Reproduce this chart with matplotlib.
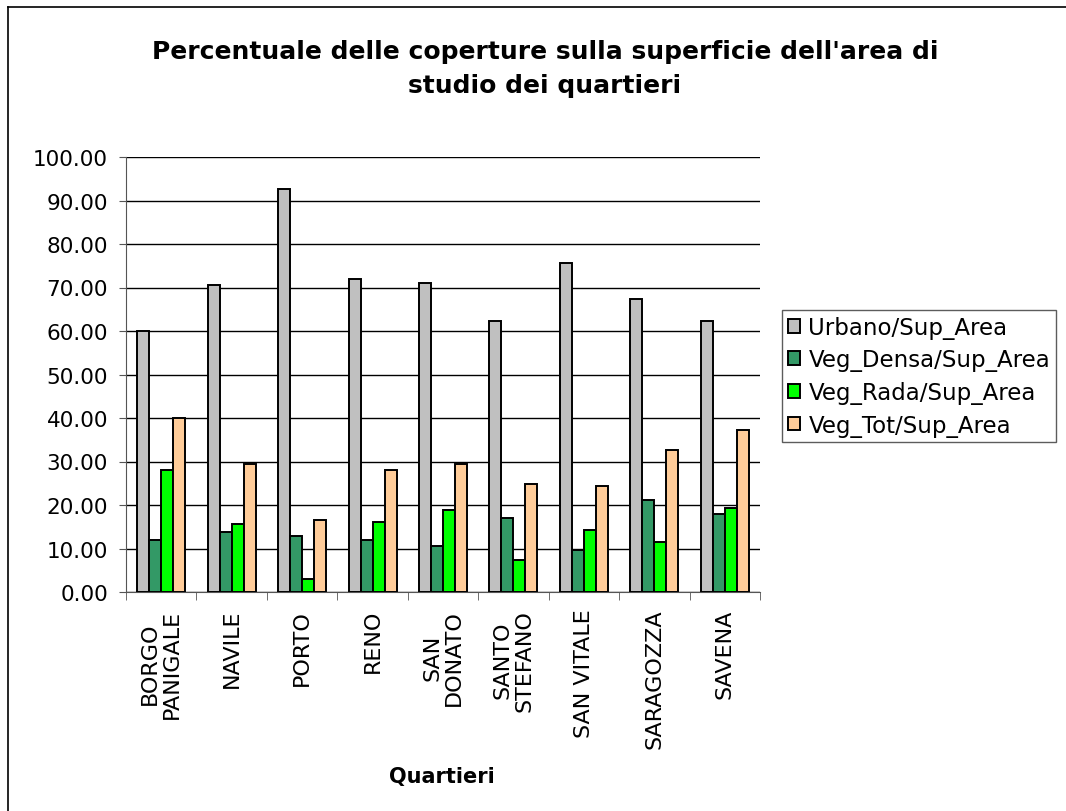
import matplotlib
matplotlib.use("Agg")
import matplotlib.pyplot as plt
import numpy as np
from matplotlib.lines import Line2D

categories = ["BORGO\nPANIGALE", "NAVILE", "PORTO", "RENO", "SAN\nDONATO",
              "SANTO\nSTEFANO", "SAN VITALE", "SARAGOZZA", "SAVENA"]
series_names = ["Urbano/Sup_Area", "Veg_Densa/Sup_Area", "Veg_Rada/Sup_Area", "Veg_Tot/Sup_Area"]
urbano = [59.9, 70.5, 92.6, 71.9, 71.0, 62.2, 75.6, 67.3, 62.2]
veg_densa = [12.0, 13.8, 12.9, 12.0, 10.6, 17.1, 9.7, 21.2, 18.0]
veg_rada = [28.1, 15.7, 3.1, 16.1, 18.9, 7.4, 14.3, 11.5, 19.4]
veg_tot = [40.1, 29.5, 16.6, 28.1, 29.5, 24.9, 24.4, 32.7, 37.3]
colors = ["#C0C0C0", "#339966", "#00FF00", "#FFCC99"]

plt.rcParams['font.family'] = ['DejaVu Sans']

fig = plt.figure(figsize=(10.66, 8.12), dpi=100)
ax = fig.add_axes([126/1066, 1 - 593/812, (760-126)/1066, (593-158)/812])

n = len(categories)
x = np.arange(n)
bw = 0.17
data = [urbano, veg_densa, veg_rada, veg_tot]
handles = []
for i, (vals, c, name) in enumerate(zip(data, colors, series_names)):
    b = ax.bar(x + (i - 1.5) * bw, vals, width=bw, color=c, edgecolor='black',
               linewidth=1.4, label=name, zorder=3)
    handles.append(b)

ax.set_xlim(-0.5, n - 0.5)
ax.set_ylim(0, 100)
ax.set_yticks(np.arange(0, 101, 10))
ax.set_yticklabels([f"{v:.2f}" for v in np.arange(0, 101, 10)], fontsize=15.5)
ax.yaxis.grid(True, color='black', linewidth=1.0, zorder=0)
ax.set_axisbelow(True)
for s in ['top', 'right']:
    ax.spines[s].set_visible(False)
ax.spines['left'].set_color('#555555')
ax.spines['bottom'].set_color('#555555')
ax.tick_params(axis='y', length=5, color='#555555', pad=8)

ax.set_xticks(x)
ax.set_xticklabels(categories, rotation=90, fontsize=16, ha='center', va='top',
                   multialignment='center', linespacing=1.12)
ax.tick_params(axis='x', which='major', length=0, pad=12)
ax.set_xticks(np.arange(-0.5, n, 1.0), minor=True)
ax.tick_params(axis='x', which='minor', length=6, color='#555555')

fig.text(442/1066, 1 - 777/812, "Quartieri", ha='center', va='center',
         fontsize=15, fontweight='bold')

fig.text(545/1066, 1 - 69/812,
         "Percentuale delle coperture sulla superficie dell'area di\nstudio dei quartieri",
         ha='center', va='center', fontsize=18, fontweight='bold', linespacing=1.55)

leg = fig.legend(handles=handles, labels=series_names, loc='upper left',
                 bbox_to_anchor=(782/1066, 1 - 311/812), fontsize=16.5,
                 frameon=True, fancybox=False, edgecolor='#333333',
                 handlelength=0.55, handleheight=0.55, handletextpad=0.35,
                 borderpad=0.25, labelspacing=0.42, borderaxespad=0)
leg.get_frame().set_linewidth(1.0)

# outer chart border (left and top visible)
fig.add_artist(Line2D([8/1066, 8/1066], [0, 1 - 8/812], color='black', linewidth=1.2,
                      transform=fig.transFigure))
fig.add_artist(Line2D([8/1066, 1], [1 - 8/812, 1 - 8/812], color='black', linewidth=1.2,
                      transform=fig.transFigure))

fig.savefig("out.png", dpi=100, facecolor='white')
